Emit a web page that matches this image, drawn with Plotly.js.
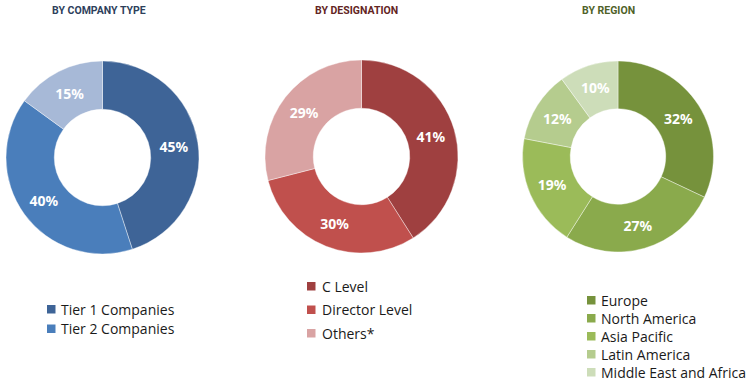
<!DOCTYPE html>
<html>
<head>
<meta charset="utf-8">
<script src="https://cdn.plot.ly/plotly-3.0.1.min.js"></script>
<style>html,body{margin:0;padding:0;background:#fff;}#chart{width:750px;height:383px;}</style>
</head>
<body>
<div id="chart"></div>
<script>
// Data
const companyLabels = ["Tier 1 Companies", "Tier 2 Companies", "Others"];
const companyValues = [45, 40, 15];
const companyColors = ["#3E6497", "#4A7EBB", "#A7B9D7"];
const companyLegendCount = 2; // reference legend lists only the two tiers

const designationLabels = ["C Level", "Director Level", "Others*"];
const designationValues = [41, 30, 29];
const designationColors = ["#9F4040", "#C0504D", "#D9A3A3"];

const regionLabels = ["Europe", "North America", "Asia Pacific", "Latin America", "Middle East and Africa"];
const regionValues = [32, 27, 19, 12, 10];
const regionColors = ["#76923C", "#8AAA4C", "#9BBB59", "#B5CC8E", "#CDDDB9"];

const titles = ["BY COMPANY TYPE", "BY DESIGNATION", "BY REGION"];
const titleColors = ["#2E3F5C", "#632523", "#4F6228"];

const W = 750, H = 383;
function dom(x0, x1, yTop, yBot) {
  return {x: [x0 / W, x1 / W], y: [1 - yBot / H, 1 - yTop / H]};
}

function pieTrace(labels, values, colors, domain) {
  return {
    type: "pie",
    labels: labels,
    values: values,
    sort: false,
    direction: "clockwise",
    rotation: 0,
    hole: 0.5,
    domain: domain,
    marker: {colors: colors, line: {color: "#ffffff", width: 0.4}},
    texttemplate: "%{value}%",
    textposition: "inside",
    insidetextorientation: "horizontal",
    textfont: {family: "Noto Sans", size: 14, color: "#ffffff", weight: "bold"},
    showlegend: false,
    hoverinfo: "label+percent"
  };
}

const traces = [
  pieTrace(companyLabels, companyValues, companyColors, dom(6, 199, 61, 254)),
  pieTrace(designationLabels, designationValues, designationColors, dom(264, 459, 60, 253)),
  pieTrace(regionLabels, regionValues, regionColors, dom(522, 714, 61, 252))
];

// Legends drawn as squares + text (layout positions only)
const legends = [
  {labels: companyLabels.slice(0, companyLegendCount), colors: companyColors, sqX: 47, txX: 59, y0: 309, dy: 19.5},
  {labels: designationLabels, colors: designationColors, sqX: 307, txX: 320, y0: 286, dy: 23.5},
  {labels: regionLabels, colors: regionColors, sqX: 587, txX: 599, y0: 300, dy: 18}
];
const shapes = [];
const annotations = [];
legends.forEach(lg => {
  lg.labels.forEach((lab, i) => {
    const yc = lg.y0 + i * lg.dy;
    shapes.push({type: "rect", xref: "paper", yref: "paper",
      x0: lg.sqX / W, x1: (lg.sqX + 8.5) / W, y0: 1 - (yc + 4.5) / H, y1: 1 - (yc - 4) / H,
      fillcolor: lg.colors[i], line: {width: 0}});
    annotations.push({text: lab, xref: "paper", yref: "paper", x: lg.txX / W, y: 1 - yc / H,
      xanchor: "left", yanchor: "middle", showarrow: false,
      font: {family: "Open Sans", size: 14, color: "#1a1a1a"}});
  });
});

const titleX = [99, 356, 608];
titles.forEach((t, i) => annotations.push({
  text: "<b>" + t + "</b>", x: titleX[i] / W, y: 1 - 10 / H, xref: "paper", yref: "paper",
  xanchor: "center", yanchor: "middle", showarrow: false,
  font: {family: "Roboto", size: 10.5, color: titleColors[i]}
}));

const layout = {
  width: W, height: H,
  margin: {l: 0, r: 0, t: 0, b: 0, autoexpand: false},
  paper_bgcolor: "#ffffff",
  showlegend: false,
  shapes: shapes,
  annotations: annotations
};

Plotly.newPlot("chart", traces, layout, {displayModeBar: false, staticPlot: true});
</script>
</body>
</html>
